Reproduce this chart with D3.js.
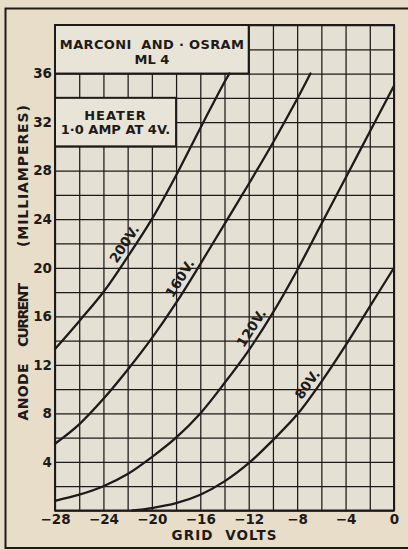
<!DOCTYPE html>
<html>
<head>
<meta charset="utf-8">
<script src="https://cdn.jsdelivr.net/npm/d3@7"></script>
<style>
  html, body { margin: 0; padding: 0; background: #e8ddc9; }
  svg { display: block; }
  text { font-family: "DejaVu Sans", "Liberation Sans", sans-serif; font-weight: bold; fill: #1e1a19; }
</style>
</head>
<body>
<svg id="chart" width="408" height="550"></svg>
<script>
// ML 4 valve: anode current against grid volts for four anode voltages
const voltTicks = [-28, -24, -20, -16, -12, -8, -4, 0];
const currentTicks = [4, 8, 12, 16, 20, 24, 28, 32, 36];

const volts200 = [-28, -26, -24, -22, -20, -18, -16, -14, -13.6];
const ma200    = [13.3, 15.6, 18.0, 20.9, 24.0, 27.6, 31.5, 35.3, 36];

const volts160 = [-28, -26, -24, -22, -20, -18, -16, -14, -12, -10, -8, -6.9];
const ma160    = [5.5, 7.1, 9.2, 11.6, 14.2, 17.1, 20.3, 23.6, 26.9, 30.3, 33.9, 36];

const volts120 = [-28, -26, -24, -22, -20, -18, -16, -14, -12, -10, -8, -6, -4, -2, 0];
const ma120    = [0.8, 1.3, 2.0, 3.0, 4.4, 6.0, 8.0, 10.5, 13.2, 16.3, 19.8, 23.6, 27.4, 31.2, 35.0];

const volts80 = [-21.6, -20, -18, -16, -14, -12, -10, -8, -6, -4, -2, 0];
const ma80    = [0, 0.2, 0.6, 1.3, 2.4, 3.9, 5.8, 7.9, 10.6, 13.6, 16.8, 20.0];

const seriesNames = ["200V.", "160V.", "120V.", "80V."];
const labelVolts  = [-21.6, -17.0, -11.1, -6.5];

const series = [
  { name: seriesNames[0], v: volts200, i: ma200, lv: labelVolts[0] },
  { name: seriesNames[1], v: volts160, i: ma160, lv: labelVolts[1] },
  { name: seriesNames[2], v: volts120, i: ma120, lv: labelVolts[2] },
  { name: seriesNames[3], v: volts80,  i: ma80,  lv: labelVolts[3] }
];

const ink = "#1e1a19";
const svg = d3.select("#chart");

const x = d3.scaleLinear().domain([-28, 0]).range([55, 394]);
const y = d3.scaleLinear().domain([0, 40]).range([510.5, 25]);
const plotW = x(0) - x(-28), plotH = y(0) - y(40);

// paper and outer rule
svg.append("rect").attr("width", 408).attr("height", 550).attr("fill", "#e8ddc9");
svg.append("path")
  .attr("d", "M408,8.5 H5.5 V548 H408")
  .attr("fill", "none").attr("stroke", ink).attr("stroke-width", 2);

// plot field
svg.append("rect")
  .attr("x", x(-28)).attr("y", y(40)).attr("width", plotW).attr("height", plotH)
  .attr("fill", "#e4e1d4");

// grid: every 2 V and every 2 mA
const gridX = svg.append("g").attr("transform", `translate(0,${y(0)})`)
  .call(d3.axisBottom(x).tickValues(d3.range(-28, 0.1, 2)).tickSize(-plotH).tickFormat(""));
const gridY = svg.append("g").attr("transform", `translate(${x(-28)},0)`)
  .call(d3.axisLeft(y).tickValues(d3.range(0, 40.1, 2)).tickSize(-plotW).tickFormat(""));
[gridX, gridY].forEach(g => {
  g.select(".domain").remove();
  g.selectAll("line").attr("stroke", ink).attr("stroke-width", 1.25);
});

// name plate and heater boxes
function box(v0, v1, i0, i1) {
  svg.append("rect")
    .attr("x", x(v0)).attr("y", y(i1))
    .attr("width", x(v1) - x(v0)).attr("height", y(i0) - y(i1))
    .attr("fill", "#e8e4d7").attr("stroke", ink).attr("stroke-width", 2);
}
box(-28, -12, 36, 40);
box(-28, -18, 30, 34);

const plateX = (x(-28) + x(-12)) / 2;
svg.append("text").attr("x", plateX).attr("y", 48.5).attr("text-anchor", "middle")
  .attr("font-size", 13).attr("textLength", 184).attr("lengthAdjust", "spacing")
  .attr("xml:space", "preserve")
  .text("MARCONI  AND · OSRAM");
svg.append("text").attr("x", plateX).attr("y", 63.5).attr("text-anchor", "middle")
  .attr("font-size", 13).text("ML 4");

const heaterX = (x(-28) + x(-18)) / 2;
svg.append("text").attr("x", heaterX).attr("y", 119.5).attr("text-anchor", "middle")
  .attr("font-size", 13).attr("letter-spacing", 1).text("HEATER");
svg.append("text").attr("x", heaterX).attr("y", 133.5).attr("text-anchor", "middle")
  .attr("font-size", 13).text("1·0 AMP AT 4V.");

// characteristic curves
const line = d3.line().x(d => x(d[0])).y(d => y(d[1])).curve(d3.curveCatmullRom.alpha(0.5));
series.forEach(s => {
  const pts = s.v.map((v, k) => [v, s.i[k]]);
  svg.append("path").datum(pts)
    .attr("d", line)
    .attr("fill", "none").attr("stroke", ink).attr("stroke-width", 2.3)
    .attr("stroke-linecap", "round");

  // label laid along the curve, set off to its upper-left side
  const at = v => {
    let k = d3.bisectLeft(s.v, v);
    k = Math.max(1, Math.min(s.v.length - 1, k));
    const t = (v - s.v[k - 1]) / (s.v[k] - s.v[k - 1]);
    return s.i[k - 1] + t * (s.i[k] - s.i[k - 1]);
  };
  const v0 = s.lv - 1.6, v1 = Math.min(0, s.lv + 1.6);
  const ang = Math.atan2(y(at(v1)) - y(at(v0)), x(v1) - x(v0));
  const off = 10;
  const px = x(s.lv) + Math.sin(ang) * off;
  const py = y(at(s.lv)) - Math.cos(ang) * off;
  svg.append("text")
    .attr("transform", `translate(${px},${py}) rotate(${ang * 180 / Math.PI})`)
    .attr("text-anchor", "middle").attr("dy", "0.36em")
    .attr("font-size", 13.5).text(s.name);
});

// plot frame
svg.append("rect")
  .attr("x", x(-28)).attr("y", y(40)).attr("width", plotW).attr("height", plotH)
  .attr("fill", "none").attr("stroke", ink).attr("stroke-width", 2);

// tick labels
const fmt = v => v < 0 ? "\u2212" + Math.abs(v) : String(v);
const ax = svg.append("g").attr("transform", `translate(0,${y(0)})`)
  .call(d3.axisBottom(x).tickValues(voltTicks).tickSize(0).tickPadding(4).tickFormat(fmt));
const ay = svg.append("g").attr("transform", `translate(${x(-28)},0)`)
  .call(d3.axisLeft(y).tickValues(currentTicks).tickSize(0).tickPadding(3).tickFormat(fmt));
[ax, ay].forEach(g => {
  g.select(".domain").remove();
  g.selectAll("text").attr("font-size", 13.5).attr("font-family", null).attr("fill", ink);
});

// axis titles
svg.append("text").attr("x", 224).attr("y", 540).attr("text-anchor", "middle")
  .attr("font-size", 13.5).attr("textLength", 105).attr("lengthAdjust", "spacing")
  .attr("xml:space", "preserve")
  .text("GRID  VOLTS");

const yTitle = [
  { t: "ANODE", c: 392, len: 57 },
  { t: "CURRENT", c: 315, len: 64 },
  { t: "(MILLIAMPERES)", c: 176, len: 142 }
];
yTitle.forEach(p => {
  svg.append("text")
    .attr("transform", `translate(27.5,${p.c}) rotate(-90)`)
    .attr("text-anchor", "middle").attr("font-size", 14)
    .attr("textLength", p.len).attr("lengthAdjust", "spacing")
    .text(p.t);
});
</script>
</body>
</html>
